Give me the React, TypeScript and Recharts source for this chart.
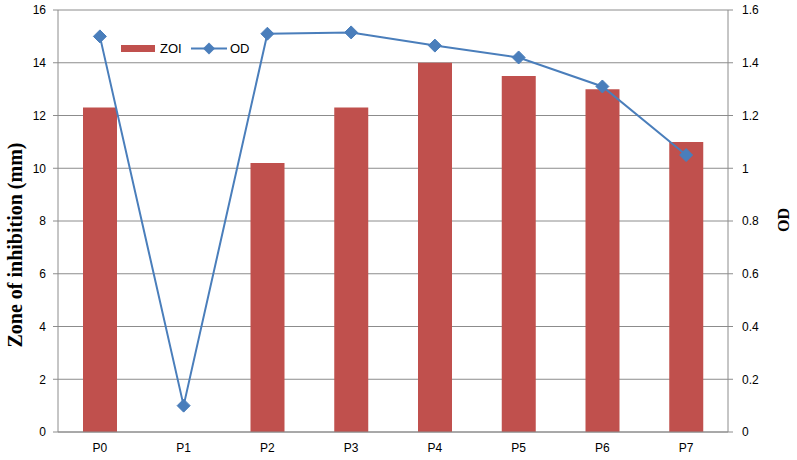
import React from 'react';
import { ComposedChart, Bar, Line, XAxis, YAxis, CartesianGrid } from 'recharts';

const categories = ['P0', 'P1', 'P2', 'P3', 'P4', 'P5', 'P6', 'P7'];
const zoiValues = [12.3, 0, 10.2, 12.3, 14.0, 13.5, 13.0, 11.0];
const odValues = [1.5, 0.1, 1.51, 1.515, 1.465, 1.42, 1.31, 1.05];
const leftTicks = [0, 2, 4, 6, 8, 10, 12, 14, 16];
const rightTicks = [0, 0.2, 0.4, 0.6, 0.8, 1, 1.2, 1.4, 1.6];
const boundaryTicks = [0, 1, 2, 3, 4, 5, 6, 7, 8];

const data = categories.map((name, i) => ({ name, ZOI: zoiValues[i], OD: odValues[i] }));

const GRID = '#8c8c8c';
const BAR = '#C0504D';
const LINE = '#4A7EBB';
const TICK_FONT = { fontFamily: 'Liberation Sans, Arial, sans-serif', fontSize: 12, fill: '#000' };

const Diamond = (props: any) => {
  const { cx, cy, index } = props;
  if (cx == null || cy == null) return null;
  const r = 6.5;
  return (
    <path
      key={`d-${index}`}
      d={`M${cx},${cy - r}L${cx + r},${cy}L${cx},${cy + r}L${cx - r},${cy}Z`}
      fill={LINE}
      stroke={LINE}
      strokeWidth={1}
    />
  );
};

const LegendBox = () => (
  <svg
    width={140}
    height={20}
    style={{ position: 'absolute', left: 121, top: 38, overflow: 'visible' }}
  >
    <rect x={0} y={7} width={34} height={7} fill={BAR} />
    <text x={39} y={15} style={{ ...TICK_FONT, fontSize: 13 }}>ZOI</text>
    <line x1={70} y1={10.5} x2={106} y2={10.5} stroke={LINE} strokeWidth={2} />
    <path d="M88,4.5L94,10.5L88,16.5L82,10.5Z" fill={LINE} />
    <text x={109} y={15} style={{ ...TICK_FONT, fontSize: 13 }}>OD</text>
  </svg>
);

export default function App() {
  return (
    <div style={{ position: 'absolute', left: 0, top: 0, width: 797, height: 460, background: '#fff' }}>
      <ComposedChart
        width={797}
        height={460}
        data={data}
        margin={{ top: 10, right: 19, bottom: 0, left: 18 }}
      >
        <CartesianGrid yAxisId="left" xAxisId="cat" vertical={false} stroke={GRID} strokeWidth={1} />
        <XAxis
          xAxisId="grid"
          type="number"
          domain={[0, 8]}
          ticks={boundaryTicks}
          interval={0}
          height={0}
          axisLine={false}
          tickLine={{ stroke: GRID }}
          tickSize={5}
          tickFormatter={() => ''}
          allowDataOverflow
        />
        <XAxis
          xAxisId="cat"
          dataKey="name"
          height={28}
          axisLine={{ stroke: GRID }}
          tickLine={false}
          tickMargin={5}
          tick={TICK_FONT}
          interval={0}
        />
        <YAxis
          yAxisId="left"
          domain={[0, 16]}
          ticks={leftTicks}
          width={40}
          tickSize={5}
          tickMargin={7}
          axisLine={{ stroke: GRID }}
          tickLine={{ stroke: GRID }}
          tick={TICK_FONT}
          interval={0}
          label={() => (
            <text
              x={15}
              y={245}
              transform="rotate(-90 15 245)"
              textAnchor="middle"
              dominantBaseline="central"
              style={{ fontFamily: 'Liberation Serif, Times New Roman, serif', fontWeight: 'bold', fontSize: 20, fill: '#000' }}
            >
              Zone of inhibition (mm)
            </text>
          )}
        />
        <YAxis
          yAxisId="right"
          orientation="right"
          domain={[0, 1.6]}
          ticks={rightTicks}
          width={50}
          tickSize={5}
          tickMargin={9}
          axisLine={{ stroke: GRID }}
          tickLine={{ stroke: GRID }}
          tick={{ ...TICK_FONT, textAnchor: 'start' }}
          interval={0}
          label={() => (
            <text
              x={783}
              y={220}
              transform="rotate(-90 783 220)"
              textAnchor="middle"
              dominantBaseline="central"
              style={{ fontFamily: 'Liberation Serif, Times New Roman, serif', fontWeight: 'bold', fontSize: 16, fill: '#000' }}
            >
              OD
            </text>
          )}
        />
        <Bar xAxisId="cat" yAxisId="left" dataKey="ZOI" fill={BAR} barSize={34} isAnimationActive={false} />
        <Line
          xAxisId="cat"
          yAxisId="right"
          dataKey="OD"
          stroke={LINE}
          strokeWidth={2}
          dot={Diamond}
          activeDot={false}
          isAnimationActive={false}
        />
      </ComposedChart>
      <LegendBox />
    </div>
  );
}
